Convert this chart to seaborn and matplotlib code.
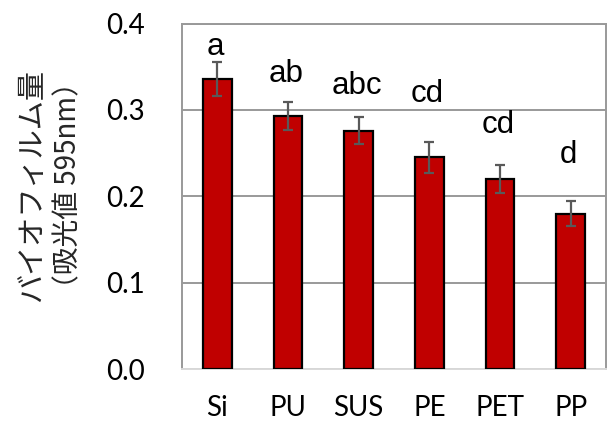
import matplotlib
matplotlib.use('Agg')
import matplotlib.pyplot as plt
import seaborn as sns
import pandas as pd

# Data
materials = ['Si', 'PU', 'SUS', 'PE', 'PET', 'PP']
biofilm = [0.336, 0.293, 0.276, 0.245, 0.220, 0.180]
errors = [0.020, 0.016, 0.016, 0.018, 0.016, 0.014]
sig_letters = ['a', 'ab', 'abc', 'cd', 'cd', 'd']
letter_y = [0.364, 0.332, 0.318, 0.309, 0.273, 0.239]
yticks = [0.0, 0.1, 0.2, 0.3, 0.4]

sns.set_theme(style='white')
plt.rcParams['font.family'] = ['Lato', 'Noto Sans CJK JP', 'DejaVu Sans']

df = pd.DataFrame({'material': materials, 'value': biofilm})

fig = plt.figure(figsize=(6.13, 4.21), dpi=100)
ax = fig.add_axes([182 / 613, 1 - 369 / 421, (606 - 182) / 613, (369 - 23.5) / 421])

sns.barplot(data=df, x='material', y='value', color='#C00000', saturation=1,
            width=0.41, edgecolor='black', linewidth=1.6, ax=ax, zorder=3)

xs = range(len(materials))
ax.errorbar(xs, biofilm, yerr=errors, fmt='none', ecolor='#595959',
            elinewidth=1.6, capsize=3.8, capthick=1.6, zorder=4)

# significance letters (Arial-like)
for x, lab, ly in zip(xs, sig_letters, letter_y):
    ax.text(x - 0.03, ly, lab, ha='center', va='baseline', fontsize=22.5,
            color='black', family=['Liberation Sans', 'DejaVu Sans'])

ax.set_ylim(0, 0.4)
ax.set_xlim(-0.5, len(materials) - 0.5)
ax.set_yticks(yticks)
ax.set_yticklabels([f'{t:.1f}' for t in yticks])
ax.yaxis.grid(True, color='#999999', linewidth=1.4, zorder=0)
ax.set_axisbelow(True)
ax.tick_params(axis='y', length=0, pad=27, labelsize=20, colors='black')
ax.tick_params(axis='x', length=0, pad=19, labelsize=20, colors='black')
ax.set_xlabel('')
ax.set_ylabel('')

for side in ['left', 'right', 'top']:
    ax.spines[side].set_color('#999999')
    ax.spines[side].set_linewidth(1.4)
ax.spines['bottom'].set_color('#D9D9D9')
ax.spines['bottom'].set_linewidth(1.4)

fig.text(32 / 613, 1 - 186 / 421, 'バイオフィルム量', rotation=90,
         ha='center', va='center', fontsize=21,
         family=['Noto Sans CJK JP', 'DejaVu Sans'])
fig.text(68 / 613, 1 - 185 / 421, '（吸光値 595nm）', rotation=90,
         ha='center', va='center', fontsize=20,
         family=['Noto Sans CJK JP', 'DejaVu Sans'])

fig.savefig('out.png', dpi=100)
